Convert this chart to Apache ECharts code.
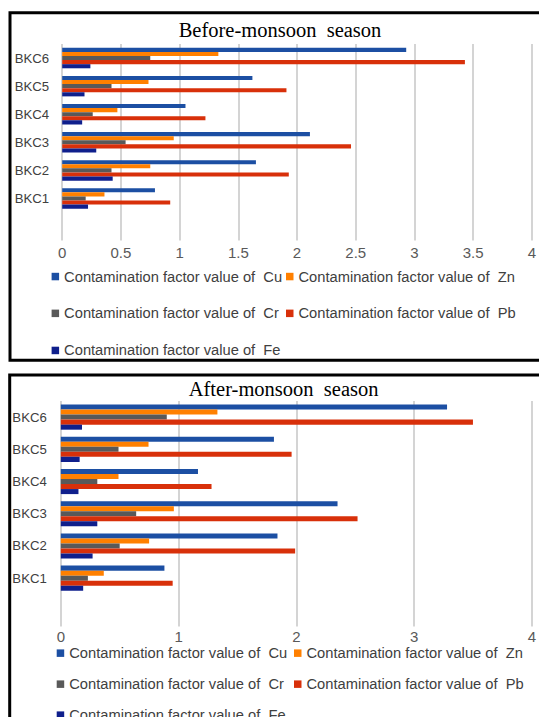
<!DOCTYPE html>
<html>
<head>
<meta charset="utf-8">
<script src="https://cdn.jsdelivr.net/npm/echarts@6/dist/echarts.min.js"></script>
<style>
html,body{margin:0;padding:0;background:#fff;}
#chart{width:539px;height:717px;}
</style>
</head>
<body>
<div id="chart"></div>
<script>
// ---- data ----
const categories = ['BKC1', 'BKC2', 'BKC3', 'BKC4', 'BKC5', 'BKC6'];
const seriesNames = [
  'Contamination factor value of  Cu',
  'Contamination factor value of  Zn',
  'Contamination factor value of  Cr',
  'Contamination factor value of  Pb',
  'Contamination factor value of  Fe'
];
// Before-monsoon season
const beforeCu = [0.79, 1.65, 2.11, 1.05, 1.62, 2.93];
const beforeZn = [0.36, 0.75, 0.95, 0.47, 0.735, 1.33];
const beforeCr = [0.20, 0.42, 0.54, 0.26, 0.42, 0.75];
const beforePb = [0.92, 1.93, 2.46, 1.22, 1.91, 3.43];
const beforeFe = [0.22, 0.43, 0.29, 0.17, 0.19, 0.24];
// After-monsoon season
const afterCu = [0.88, 1.84, 2.35, 1.165, 1.81, 3.28];
const afterZn = [0.365, 0.75, 0.96, 0.49, 0.745, 1.33];
const afterCr = [0.23, 0.50, 0.64, 0.31, 0.49, 0.90];
const afterPb = [0.95, 1.99, 2.52, 1.28, 1.96, 3.50];
const afterFe = [0.19, 0.27, 0.31, 0.15, 0.16, 0.18];
// tick labels
const beforeTicks = [0, 0.5, 1, 1.5, 2, 2.5, 3, 3.5, 4];
const afterTicks = [0, 1, 2, 3, 4];
const titles = ['Before-monsoon  season', 'After-monsoon  season'];

// ---- styles ----
const colors = ['#1c4fa3', '#ff8000', '#595959', '#d8300a', '#0f1f8c'];
const sansFont = "'Liberation Sans', Arial, sans-serif";
const serifFont = "'Liberation Serif', 'DejaVu Serif', serif";

const beforeData = [beforeCu, beforeZn, beforeCr, beforePb, beforeFe];
const afterData = [afterCu, afterZn, afterCr, afterPb, afterFe];
const axisCats = [''].concat(categories); // empty slot at the bottom

function makeSeries(dataSets, idx, gap) {
  return dataSets.map((vals, i) => ({
    name: seriesNames[i],
    type: 'bar',
    xAxisIndex: idx,
    yAxisIndex: idx,
    data: [null].concat(vals),
    itemStyle: { color: colors[i] },
    barGap: '0%',
    barCategoryGap: gap,
    silent: true,
    animation: false
  }));
}

function xAxisFor(idx, ticks, margin) {
  return {
    type: 'value',
    gridIndex: idx,
    min: ticks[0],
    max: ticks[ticks.length - 1],
    interval: ticks[1] - ticks[0],
    axisLine: { show: false },
    axisTick: { show: false },
    splitLine: { show: true, lineStyle: { color: '#c6c6c6', width: 1.5 } },
    axisLabel: { color: '#595959', fontSize: 15, fontFamily: sansFont, margin: margin }
  };
}
function yAxisFor(idx, margin) {
  return {
    type: 'category',
    gridIndex: idx,
    data: axisCats,
    axisLine: { show: false },
    axisTick: { show: false },
    axisLabel: { color: '#404040', fontSize: 13.2, fontFamily: sansFont, margin: margin }
  };
}

const legendFont = 14.7;
const legendPos = [
  // top panel
  { i: 0, left: 51.6, cy: 276.4 }, { i: 1, left: 286, cy: 276.4 },
  { i: 2, left: 51.6, cy: 313.2 }, { i: 3, left: 286, cy: 313.2 },
  { i: 4, left: 51.6, cy: 350.3 },
  // bottom panel
  { i: 0, left: 56.7, cy: 653 }, { i: 1, left: 294, cy: 653 },
  { i: 2, left: 56.7, cy: 684 }, { i: 3, left: 294, cy: 684 },
  { i: 4, left: 56.7, cy: 715 }
];
const legends = legendPos.map(p => ({
  data: [seriesNames[p.i]],
  left: p.left,
  top: p.cy - legendFont / 2,
  padding: 0,
  itemWidth: 7.5,
  itemHeight: 7.5,
  icon: 'rect',
  selectedMode: false,
  textStyle: { color: '#404040', fontSize: legendFont, fontFamily: sansFont }
}));

const option = {
  backgroundColor: '#ffffff',
  animation: false,
  grid: [
    { left: 62.2, right: 3.8, top: 44, height: 196.6, containLabel: false },
    { left: 60.8, right: 3.8, top: 401, height: 225.5, containLabel: false }
  ],
  xAxis: [xAxisFor(0, beforeTicks, 4), xAxisFor(1, afterTicks, 2)],
  yAxis: [yAxisFor(0, 13), yAxisFor(1, 14)],
  legend: legends,
  series: makeSeries(beforeData, 0, '27%').concat(makeSeries(afterData, 1, '22%')),
  graphic: [
    { type: 'rect', shape: { x: 10, y: 12.8, width: 560, height: 347.4 },
      style: { fill: null, stroke: '#000', lineWidth: 3 }, z: 100 },
    { type: 'rect', shape: { x: 9.7, y: 375, width: 560, height: 400 },
      style: { fill: null, stroke: '#000', lineWidth: 3 }, z: 100 },
    { type: 'text', x: 280, y: 29.8, style: { text: titles[0], fill: '#000', font: '20.5px ' + serifFont, textAlign: 'center', textVerticalAlign: 'middle' }, z: 100 },
    { type: 'text', x: 283.6, y: 389.1, style: { text: titles[1], fill: '#000', font: '20.5px ' + serifFont, textAlign: 'center', textVerticalAlign: 'middle' }, z: 100 }
  ]
};

const chart = echarts.init(document.getElementById('chart'), null, { renderer: 'svg', width: 539, height: 717 });
chart.setOption(option);
</script>
</body>
</html>
